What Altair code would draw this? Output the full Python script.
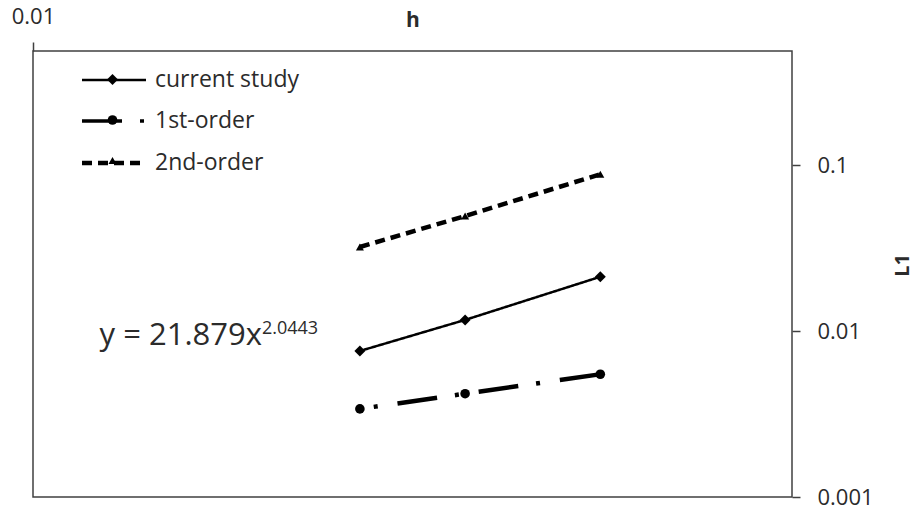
import altair as alt
import pandas as pd

# ---- data ----
h_values = [0.02, 0.025, 0.0333]
current_study = [0.0076, 0.0117, 0.0213]
first_order = [0.0034, 0.0042, 0.0055]
second_order = [0.0322, 0.0495, 0.0885]
series_names = ["current study", "1st-order", "2nd-order"]
marker_keys = ["m1", "m2", "m3"]

eq_main = ["y = 21.879x"]
eq_sup = ["2.0443"]
eq_h = [0.01625]
eq_l1 = [0.00823]

x_ticks = [0.01]
y_ticks = [0.001, 0.01, 0.1]

rows = []
for name, key, vals in zip(series_names, marker_keys, [current_study, first_order, second_order]):
    for hv, v in zip(h_values, vals):
        rows.append({"h": hv, "L1": v, "series": name, "marker": key})
df = pd.DataFrame(rows)
eq_df = pd.DataFrame({"h": eq_h, "L1": eq_l1, "main": eq_main, "sup": eq_sup})

FONT = "Open Sans"
TXT = "#2b2b2b"
AX = "#404040"
DASH_1ST = [40, 18, 4, 20]

x_enc = alt.X(
    "h:Q",
    scale=alt.Scale(type="log", domain=[0.01, 0.05], nice=False),
    axis=alt.Axis(
        orient="top", values=x_ticks, format=".3~f", domain=False, grid=False,
        tickSize=9, tickColor=AX, tickWidth=1.5, labelFont=FONT, labelFontSize=22,
        labelColor=TXT, labelPadding=14, labelFlush=False, title="h",
        titleFont=FONT, titleFontSize=21, titleFontWeight="bold", titleColor=TXT,
        titleY=-25, titleBaseline="alphabetic",
    ),
)
y_enc = alt.Y(
    "L1:Q",
    scale=alt.Scale(type="log", domain=[0.001, 0.49], nice=False),
    axis=alt.Axis(
        orient="right", values=y_ticks, format=".3~f", domain=False, grid=False,
        tickSize=8, tickColor=AX, tickWidth=1.5, labelFont=FONT, labelFontSize=22,
        labelColor=TXT, labelPadding=17, title="L1", titleFont=FONT,
        titleFontSize=20, titleFontWeight="bold", titleColor=TXT, titleAngle=270,
        titleX=110, titleY=214, titleAlign="center", titleBaseline="middle",
    ),
)

line_legend = alt.Legend(
    orient="none", legendX=68, legendY=17, title=None, symbolType="M-3,0H3",
    symbolSize=455, symbolStrokeColor="black", labelFont=FONT, labelFontSize=23,
    labelColor=TXT, labelOffset=28, rowPadding=16.5, padding=0,
)
marker_legend = alt.Legend(
    orient="none", legendX=68, legendY=17, title=None, labelExpr="''",
    labelFontSize=23, rowPadding=16.5, padding=0, symbolFillColor="black",
    symbolStrokeColor="black",
)

lines = alt.Chart(df).mark_line(color="black", strokeCap="butt").encode(
    x=x_enc,
    y=y_enc,
    strokeDash=alt.StrokeDash(
        "series:N",
        scale=alt.Scale(domain=series_names, range=[[1, 0], DASH_1ST, [10, 6]]),
        legend=line_legend,
    ),
    strokeWidth=alt.StrokeWidth(
        "series:N",
        scale=alt.Scale(domain=series_names, range=[2.5, 4.5, 2.3]),
        legend=line_legend,
    ),
    strokeOpacity=alt.condition(
        "datum.series === '1st-order'", alt.value(0), alt.value(1)
    ),
)

first_line = (
    alt.Chart(df)
    .transform_filter("datum.series === '1st-order'")
    .mark_line(color="black", strokeCap="butt", strokeWidth=4.5,
               strokeDash=DASH_1ST, strokeDashOffset=44)
    .encode(x=x_enc, y=y_enc)
)

points = alt.Chart(df).mark_point(filled=True, color="black", opacity=1).encode(
    x=x_enc,
    y=y_enc,
    shape=alt.Shape(
        "marker:N",
        scale=alt.Scale(domain=marker_keys, range=["diamond", "circle", "triangle-up"]),
        legend=marker_legend,
    ),
    size=alt.Size(
        "marker:N",
        scale=alt.Scale(domain=marker_keys, range=[120, 64, 110]),
        legend=marker_legend,
    ),
)

main_text = alt.Chart(eq_df).mark_text(
    align="right", baseline="alphabetic", font=FONT, fontSize=31, color=TXT
).encode(x=x_enc, y=y_enc, text="main:N")

sup_text = alt.Chart(eq_df).mark_text(
    align="left", baseline="alphabetic", font=FONT, fontSize=18, color=TXT, dy=-11
).encode(x=x_enc, y=y_enc, text="sup:N")

chart = (
    alt.layer(lines, first_line, points, main_text, sup_text)
    .properties(
        width=759, height=446,
        padding={"left": 33, "top": 51, "right": 125, "bottom": 17},
        autosize=alt.AutoSizeParams(type="none"),
        background="white",
    )
    .configure_view(stroke=AX, strokeWidth=1.5)
)

chart.save("out.html", embed_options={"renderer": "svg", "actions": False})
